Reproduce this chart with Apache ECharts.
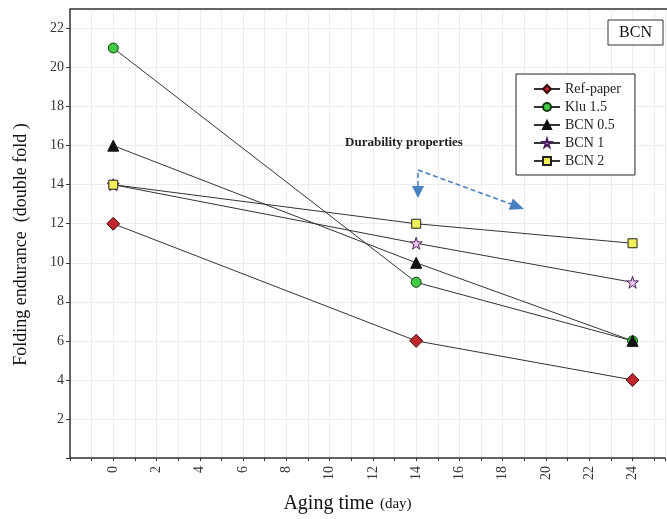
<!DOCTYPE html>
<html>
<head>
<meta charset="utf-8">
<script src="https://cdn.jsdelivr.net/npm/echarts@6/dist/echarts.min.js"></script>
<style>
html, body { margin: 0; padding: 0; background: #fff; }
#main { width: 667px; height: 519px; }
</style>
</head>
<body>
<div id="main"></div>
<script>
// 数据
var days = [0, 14, 24];
var refPaper = [12, 6, 4];
var klu15 = [21, 9, 6];
var bcn05 = [16, 10, 6];
var bcn1 = [14, 11, 9];
var bcn2 = [14, 12, 11];

var FONT = 'Liberation Serif';
var STAR = 'path://M50,0 L61,35 L98,35 L68,57 L79,91 L50,70 L21,91 L32,57 L2,35 L39,35 Z';

function pairs(vals) {
    return days.map(function (d, i) { return [d, vals[i]]; });
}

function mkSeries(name, vals, symbol, size, fill, border) {
    return {
        name: name,
        type: 'line',
        data: pairs(vals),
        symbol: symbol,
        symbolSize: size,
        showAllSymbol: true,
        lineStyle: { color: '#333', width: 1 },
        itemStyle: { color: fill, borderColor: border, borderWidth: 1 },
        emphasis: { disabled: true },
        z: 3
    };
}

var myChart = echarts.init(document.getElementById('main'));
myChart.setOption({
    animation: false,
    textStyle: { fontFamily: FONT },
    grid: { left: 70, right: 2, top: 9, bottom: 60 },
    legend: {
        orient: 'vertical',
        left: 516,
        top: 74,
        padding: [8, 14, 7, 17],
        itemWidth: 26,
        itemHeight: 10,
        itemGap: 4,
        borderColor: '#222',
        borderWidth: 1,
        backgroundColor: '#fff',
        textStyle: { fontFamily: FONT, fontSize: 14, color: '#222', lineHeight: 13 },
        data: ['Ref-paper', 'Klu 1.5', 'BCN 0.5', 'BCN 1', 'BCN 2']
    },
    xAxis: {
        type: 'value',
        min: -2,
        max: 25.5,
        interval: 1,
        name: '{a|Aging time}  {b|(day)}',
        nameLocation: 'middle',
        nameGap: 36,
        nameTextStyle: {
            padding: [0, 40, 0, 0],
            rich: {
                a: { fontFamily: FONT, fontSize: 20, color: '#111' },
                b: { fontFamily: FONT, fontSize: 15, color: '#111' }
            }
        },
        axisLine: { show: true, onZero: false, lineStyle: { color: '#333', width: 1.5 } },
        axisTick: { show: true, length: 3, lineStyle: { color: '#333' } },
        axisLabel: {
            rotate: 90,
            fontFamily: FONT,
            fontSize: 14,
            color: '#333',
            margin: 8,
            formatter: function (v) {
                return (v >= 0 && v % 2 === 0) ? String(v) : '';
            }
        },
        splitLine: { show: true, lineStyle: { color: '#ececec', width: 1 } }
    },
    yAxis: {
        type: 'value',
        min: 0,
        max: 23,
        interval: 2,
        name: 'Folding endurance  (double fold )',
        nameLocation: 'middle',
        nameGap: 40,
        nameTextStyle: { fontFamily: FONT, fontSize: 18, color: '#111', padding: [0, 22, 0, 0] },
        axisLine: { show: true, onZero: false, lineStyle: { color: '#333', width: 1.5 } },
        axisTick: { show: true, length: 4, lineStyle: { color: '#333' } },
        axisLabel: {
            fontFamily: FONT,
            fontSize: 14,
            color: '#333',
            margin: 6,
            showMaxLabel: false,
            formatter: function (v) { return (v === 0 || v % 2 !== 0) ? '' : String(v); }
        },
        splitLine: { show: true, lineStyle: { color: '#ececec', width: 1 } }
    },
    graphic: [
        // top border
        { type: 'line', z: 10, shape: { x1: 70, y1: 9, x2: 667, y2: 9 }, style: { stroke: '#333', lineWidth: 1.5 } },
        // BCN box
        { type: 'rect', z: 10, shape: { x: 608, y: 20, width: 55, height: 25 }, style: { fill: '#fff', stroke: '#333', lineWidth: 1 } },
        { type: 'text', z: 11, x: 635.5, y: 33, style: { text: 'BCN', font: '16px "Liberation Serif"', fill: '#111', align: 'center', verticalAlign: 'middle' } },
        // annotation
        { type: 'text', z: 10, x: 404, y: 143, style: { text: 'Durability properties', font: 'bold 13px "Liberation Serif"', fill: '#222', align: 'center', verticalAlign: 'middle' } },
        { type: 'polyline', z: 10, shape: { points: [[418, 186], [418, 170], [511, 204]] }, style: { stroke: '#4a7fc0', lineWidth: 1.5, lineDash: [5, 3], fill: null } },
        { type: 'polygon', z: 10, shape: { points: [[412, 186], [424, 186], [418, 198]] }, style: { fill: '#4a7fc0' } },
        { type: 'polygon', z: 10, shape: { points: [[508.8, 209.8], [512.8, 198.6], [524, 209]] }, style: { fill: '#4a7fc0' } }
    ],
    series: [
        mkSeries('Ref-paper', refPaper, 'diamond', 13, '#c0262d', '#3a0a0a'),
        mkSeries('Klu 1.5', klu15, 'circle', 10, '#44c944', '#0e3a0e'),
        mkSeries('BCN 0.5', bcn05, 'triangle', 11, '#111', '#111'),
        mkSeries('BCN 1', bcn1, STAR, 12, '#ecc8ee', '#4a2060'),
        mkSeries('BCN 2', bcn2, 'rect', 9, '#f2ee5a', '#222')
    ]
});
</script>
</body>
</html>
